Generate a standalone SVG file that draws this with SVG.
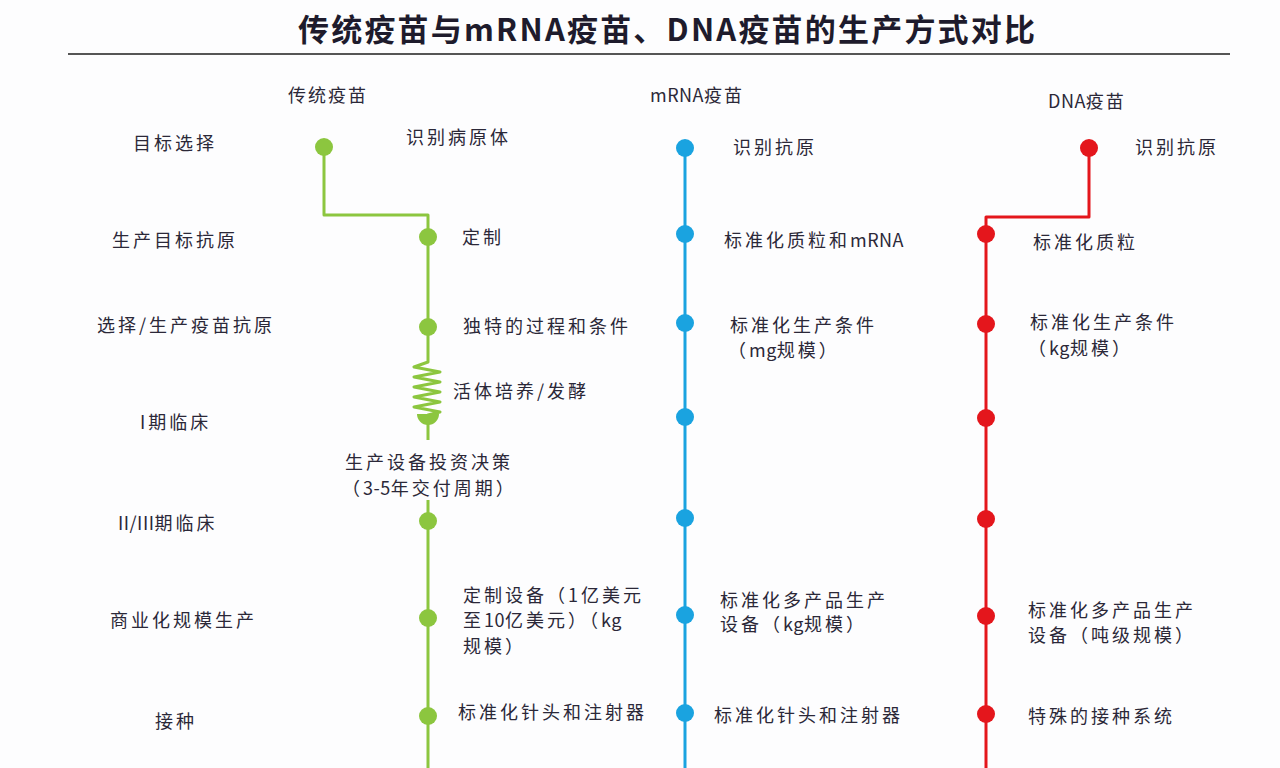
<svg xmlns="http://www.w3.org/2000/svg" width="1280" height="768" viewBox="0 0 1280 768">
<style>
.t{font-family:"Noto Sans CJK SC","Liberation Sans",sans-serif;font-size:18px;fill:#2b2838;letter-spacing:3px}
.h{font-family:"Noto Sans CJK SC","Liberation Sans",sans-serif;font-size:18px;fill:#2b2838;letter-spacing:2px}
.lat{letter-spacing:0.5px}
.title{font-family:"Noto Sans CJK SC","Liberation Sans",sans-serif;font-size:31px;font-weight:bold;fill:#1e1b2c}
.g{fill:#8cc63f}.b{fill:#1aa3e0}.r{fill:#e4161c}
.lg{stroke:#8cc63f}.lb{stroke:#1aa3e0}.lr{stroke:#e4161c}
.ln{fill:none;stroke-width:3;stroke-linejoin:round}
</style>
<rect width="1280" height="768" fill="#fdfdfe"/>
<g id="title">
<text class="title" x="298" y="41" textLength="737" lengthAdjust="spacing">传统疫苗与mRNA疫苗、DNA疫苗的生产方式对比</text>
<line x1="68" y1="54" x2="1230" y2="54" stroke="#555" stroke-width="2"/>
</g>
<g id="headers">
<text class="h" x="288" y="102">传统疫苗</text>
<text class="h" x="650" y="102"><tspan class="lat">mRNA</tspan>疫苗</text>
<text class="h" x="1048" y="108"><tspan class="lat">DNA</tspan>疫苗</text>
</g>
<g id="row-labels">
<text class="t" x="133" y="150">目标选择</text>
<text class="t" x="112" y="247">生产目标抗原</text>
<text class="t" x="97" y="332">选择/生产疫苗抗原</text>
<text class="t" x="140" y="429">I期临床</text>
<text class="t" x="118" y="530"><tspan class="lat">II/III</tspan>期临床</text>
<text class="t" x="110" y="627">商业化规模生产</text>
<text class="t" x="155" y="728">接种</text>
</g>
<g id="connectors">
<path class="ln lg" d="M324,147 V215 H428 V362 L414,367 L440,372 L414,377 L440,382 L414,387 L440,392 L414,397 L440,402 L414,407 L440,412 L428,415 V440"/>
<path class="ln lg" d="M428,500 V768"/>
<path class="ln lb" d="M685,148 V768"/>
<path class="ln lr" d="M1089,148 V217 H986 V768"/>
</g>
<g id="traditional">
<circle class="g" cx="324" cy="147" r="9"/>
<circle class="g" cx="428" cy="237" r="9"/>
<circle class="g" cx="428" cy="327" r="9"/>
<path class="g" d="M417,414 A11,11 0 0 0 439,414 Z"/>
<circle class="g" cx="428" cy="521" r="9"/>
<circle class="g" cx="428" cy="618" r="9"/>
<circle class="g" cx="428" cy="716" r="9"/>
<text class="t" x="406" y="144">识别病原体</text>
<text class="t" x="462" y="244">定制</text>
<text class="t" x="463" y="333">独特的过程和条件</text>
<text class="t" x="453" y="398">活体培养/发酵</text>
<text class="t" x="345" y="469">生产设备投资决策</text>
<text class="t" x="342" y="495">（<tspan class="lat">3-5</tspan>年交付周期）</text>
<text class="t" x="463" y="602">定制设备（1亿美元</text>
<text class="t" x="463" y="627">至<tspan class="lat">10</tspan>亿美元）（<tspan class="lat">kg</tspan></text>
<text class="t" x="463" y="653">规模）</text>
<text class="t" x="458" y="719">标准化针头和注射器</text>
</g>
<g id="mrna">
<circle class="b" cx="685" cy="148" r="9"/>
<circle class="b" cx="685" cy="234" r="9"/>
<circle class="b" cx="685" cy="323" r="9"/>
<circle class="b" cx="685" cy="417" r="9"/>
<circle class="b" cx="685" cy="518" r="9"/>
<circle class="b" cx="685" cy="615" r="9"/>
<circle class="b" cx="685" cy="713" r="9"/>
<text class="t" x="733" y="154">识别抗原</text>
<text class="t" x="724" y="247">标准化质粒和<tspan class="lat">mRNA</tspan></text>
<text class="t" x="730" y="332">标准化生产条件</text>
<text class="t" x="728" y="357">（<tspan class="lat">mg</tspan>规模）</text>
<text class="t" x="720" y="607">标准化多产品生产</text>
<text class="t" x="720" y="631">设备（<tspan class="lat">kg</tspan>规模）</text>
<text class="t" x="714" y="722">标准化针头和注射器</text>
</g>
<g id="dna">
<circle class="r" cx="1089" cy="148" r="9"/>
<circle class="r" cx="986" cy="234" r="9"/>
<circle class="r" cx="986" cy="324" r="9"/>
<circle class="r" cx="986" cy="418" r="9"/>
<circle class="r" cx="986" cy="519" r="9"/>
<circle class="r" cx="986" cy="616" r="9"/>
<circle class="r" cx="986" cy="714" r="9"/>
<text class="t" x="1135" y="154">识别抗原</text>
<text class="t" x="1033" y="249">标准化质粒</text>
<text class="t" x="1030" y="329">标准化生产条件</text>
<text class="t" x="1028" y="355">（<tspan class="lat">kg</tspan>规模）</text>
<text class="t" x="1028" y="617">标准化多产品生产</text>
<text class="t" x="1028" y="642">设备（吨级规模）</text>
<text class="t" x="1028" y="723">特殊的接种系统</text>
</g>
</svg>
